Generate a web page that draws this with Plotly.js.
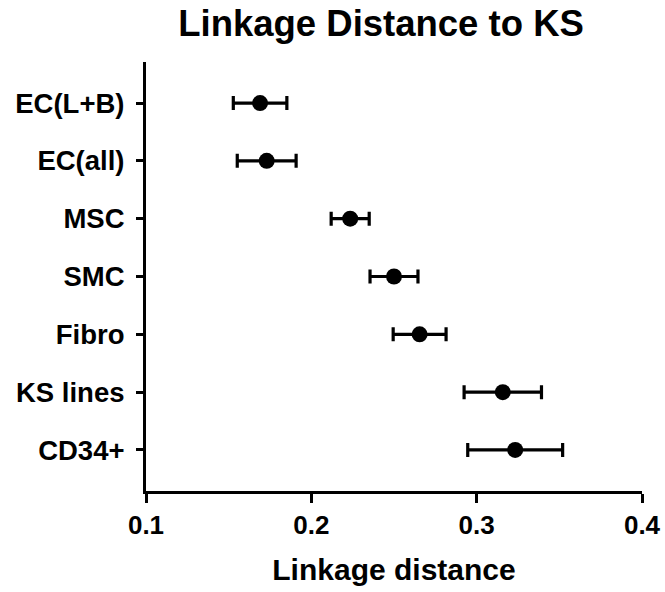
<!DOCTYPE html>
<html>
<head>
<meta charset="utf-8">
<script src="https://cdn.plot.ly/plotly-3.0.1.min.js"></script>
<style>html,body{margin:0;padding:0;background:#fff;}#chart{width:665px;height:592px;}</style>
</head>
<body>
<div id="chart"></div>
<script>
const categories = ["EC(L+B)", "EC(all)", "MSC", "SMC", "Fibro", "KS lines", "CD34+"];
const meanDistance = [0.169, 0.173, 0.2235, 0.250, 0.2655, 0.3158, 0.3233];
const errorDistance = [0.0162, 0.0178, 0.0115, 0.0145, 0.016, 0.0234, 0.0287];
const xTickValues = [0.1, 0.2, 0.3, 0.4];
const xTickLabels = ["0.1", "0.2", "0.3", "0.4"];

const FONT = "Liberation Sans, Arial, Helvetica, sans-serif";

const trace = {
  type: "scatter",
  mode: "markers",
  x: meanDistance,
  y: categories,
  marker: {color: "#000", size: 16},
  error_x: {type: "data", array: errorDistance, visible: true, color: "#000", thickness: 3.2, width: 7},
  hoverinfo: "x+y",
  cliponaxis: false
};

const layout = {
  width: 665, height: 592,
  margin: {l: 146, r: 23, t: 62, b: 101},
  paper_bgcolor: "#fff", plot_bgcolor: "#fff",
  showlegend: false,
  font: {family: FONT, color: "#000"},
  title: {
    text: "<b>Linkage Distance to KS</b>",
    font: {family: FONT, size: 36.5, color: "#000"},
    x: 0.573, xanchor: "center", xref: "container",
    y: 0.961, yanchor: "middle", yref: "container"
  },
  xaxis: {
    range: [0.1, 0.4],
    tickvals: xTickValues, ticktext: xTickLabels,
    showgrid: false, zeroline: false,
    showline: true, linecolor: "#000", linewidth: 3,
    ticks: "outside", ticklen: 9, tickwidth: 3, tickcolor: "#000",
    tickfont: {family: FONT, size: 26, color: "#000", weight: "bold"},
    title: {text: "<b>Linkage distance</b>", font: {family: FONT, size: 30, color: "#000"}, standoff: 20}
  },
  yaxis: {
    type: "category",
    categoryorder: "array", categoryarray: categories,
    range: [6.71, -0.71],
    showgrid: false, zeroline: false,
    showline: true, linecolor: "#000", linewidth: 3,
    ticks: "outside", ticklen: 7, tickwidth: 3, tickcolor: "#000",
    ticklabelstandoff: 6,
    tickfont: {family: FONT, size: 27.5, color: "#000", weight: "bold"}
  }
};

Plotly.newPlot("chart", [trace], layout, {displayModeBar: false, staticPlot: true});
</script>
</body>
</html>
